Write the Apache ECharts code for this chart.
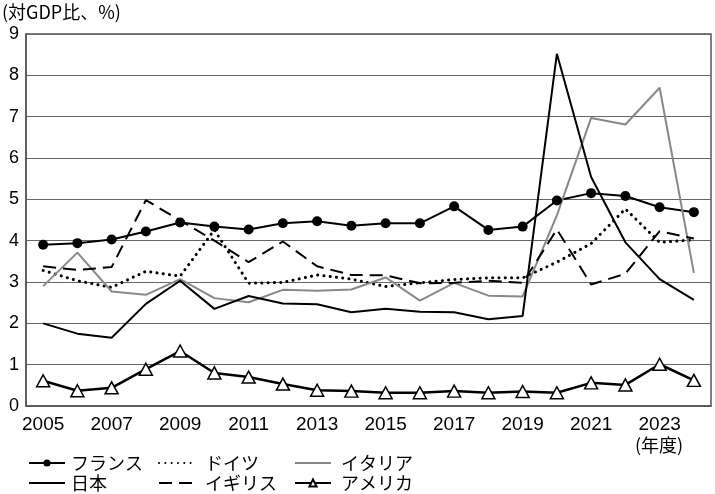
<!DOCTYPE html>
<html><head><meta charset="utf-8">
<script src="https://cdn.jsdelivr.net/npm/echarts@6/dist/echarts.min.js"></script>
<style>html,body{margin:0;padding:0;background:#fff}#c{width:715px;height:494px}</style>
</head><body><div id="c"></div>
<script>
const years = ['2005','2006','2007','2008','2009','2010','2011','2012','2013','2014','2015','2016','2017','2018','2019','2020','2021','2022','2023','2024'];
const yTicks = [0,1,2,3,4,5,6,7,8,9];
const france  = [3.90,3.94,4.03,4.22,4.44,4.34,4.27,4.42,4.47,4.36,4.42,4.42,4.83,4.26,4.34,4.97,5.15,5.08,4.81,4.69];
const germany = [3.28,3.03,2.87,3.26,3.14,4.26,2.97,2.99,3.17,3.07,2.89,2.98,3.06,3.10,3.10,3.48,3.93,4.77,3.96,4.02];
const italy   = [2.90,3.71,2.77,2.69,3.07,2.61,2.51,2.81,2.79,2.82,3.11,2.55,2.98,2.67,2.65,4.61,6.97,6.81,7.70,3.22];
const japan   = [2.00,1.75,1.65,2.47,3.03,2.35,2.66,2.48,2.46,2.27,2.35,2.28,2.27,2.10,2.18,8.52,5.54,3.96,3.07,2.57];
const uk      = [3.38,3.29,3.36,4.98,4.49,4.00,3.48,3.98,3.38,3.17,3.16,2.97,2.98,3.03,2.98,4.27,2.94,3.20,4.23,4.05];
const usa     = [0.61,0.37,0.44,0.89,1.33,0.80,0.70,0.53,0.38,0.36,0.32,0.32,0.36,0.32,0.35,0.32,0.56,0.51,1.01,0.62];
const names = ['フランス','ドイツ','イタリア','日本','イギリス','アメリカ'];

const sans = '"Liberation Sans", Arial, sans-serif';
const jp = '"Noto Sans CJK JP", sans-serif';
const series = [
  {name:names[0], type:'line', data:france, symbol:'circle', symbolSize:10, itemStyle:{color:'#000'}, lineStyle:{color:'#000', width:2}},
  {name:names[1], type:'line', data:germany, symbol:'none', itemStyle:{color:'#000'}, lineStyle:{color:'#000', width:3, type:[0.1,6.2], cap:'round'}},
  {name:names[2], type:'line', data:italy, symbol:'none', itemStyle:{color:'#888'}, lineStyle:{color:'#888', width:2}},
  {name:names[3], type:'line', data:japan, symbol:'none', itemStyle:{color:'#000'}, lineStyle:{color:'#000', width:2}},
  {name:names[4], type:'line', data:uk, symbol:'none', itemStyle:{color:'#000'}, lineStyle:{color:'#000', width:2, type:[13,7]}},
  {name:names[5], type:'line', data:usa, symbol:'triangle', symbolSize:[13,12], itemStyle:{color:'#fff', borderColor:'#000', borderWidth:1.5}, lineStyle:{color:'#000', width:2.5}}
];
series.forEach(s=>{s.animation=false; s.z = 3;});

const legPos = [[28,463,1],[158,463,5],[294,463,5],[28,483,1],[158,483,5],[294,483,5]];
const hasMarker = [true,false,false,false,false,true];
const legends = names.map((n,i)=>({
  data:[hasMarker[i] ? {name:n} : {name:n, itemStyle:{opacity:0}}],
  left:legPos[i][0], top:legPos[i][1]-9, itemWidth:36, itemHeight:9, itemGap:0,
  selectedMode:false, padding:0,
  textStyle:{fontFamily:jp, fontSize:18, lineHeight:18, color:'#000', padding:[0,0,0,legPos[i][2]]}
}));

const chart = echarts.init(document.getElementById('c'), null, {renderer:'canvas'});
chart.setOption({
  animation:false,
  backgroundColor:'#fff',
  grid:{left:26, right:4, top:34, bottom:88, show:true, borderColor:'#555', borderWidth:1.5},
  xAxis:{type:'category', data:years, boundaryGap:true,
    axisLine:{lineStyle:{color:'#555', width:1.5}}, axisTick:{show:false},
    axisLabel:{interval:1, color:'#000', fontFamily:sans, fontSize:19, margin:9}},
  yAxis:{type:'value', min:yTicks[0], max:yTicks[yTicks.length-1], interval:1,
    axisLine:{show:true, lineStyle:{color:'#555', width:1.5}}, axisTick:{show:false},
    splitLine:{lineStyle:{color:'#666', width:1.2}},
    axisLabel:{color:'#000', fontFamily:sans, fontSize:18, margin:7}},
  legend:legends,
  graphic:[
    {type:'text', left:2, top:3, style:{text:'(対GDP比、%)', fontFamily:jp, fontSize:18, fill:'#000'}},
    {type:'text', left:635, top:436, style:{text:'(年度)', fontFamily:jp, fontSize:18, fill:'#000'}}
  ],
  series:series
});
</script></body></html>
